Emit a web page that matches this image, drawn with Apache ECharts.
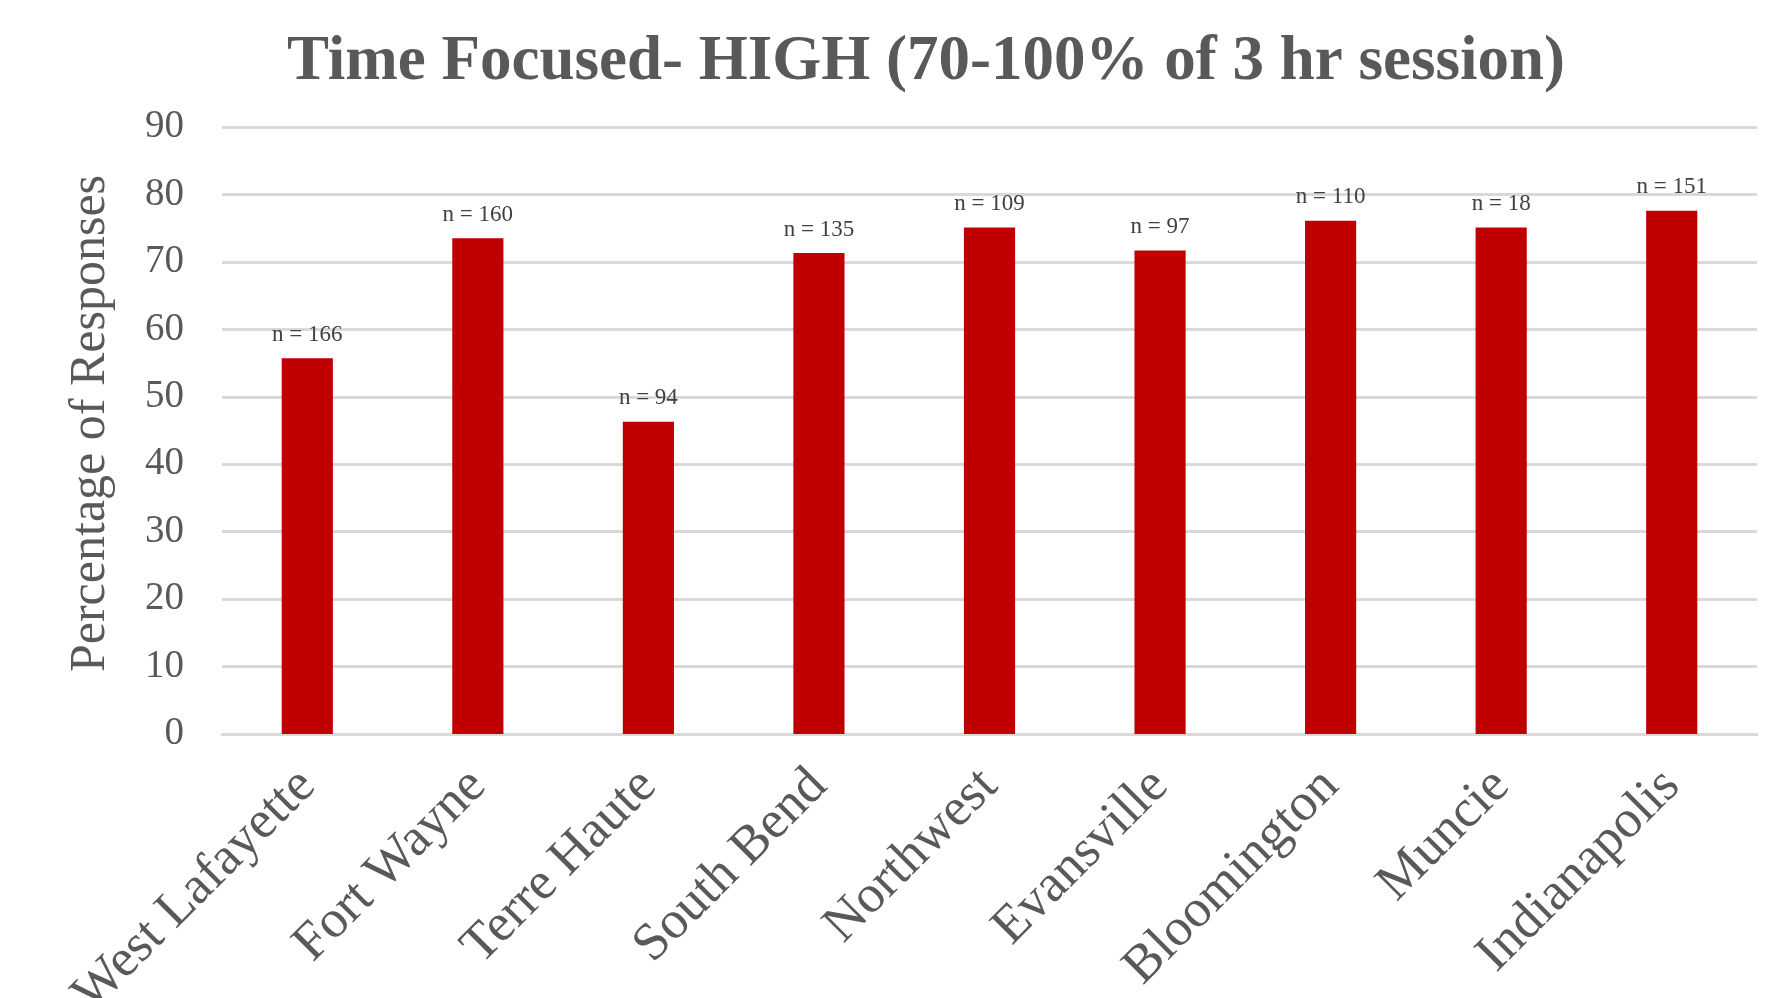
<!DOCTYPE html>
<html>
<head>
<meta charset="utf-8">
<script src="https://cdn.jsdelivr.net/npm/echarts@6/dist/echarts.min.js"></script>
<style>
  html, body { margin: 0; padding: 0; background: #fff; }
  #chart { width: 1768px; height: 998px; }
</style>
</head>
<body>
<div id="chart"></div>
<script>
// campuses along the x axis
const campuses = ['West Lafayette', 'Fort Wayne', 'Terre Haute', 'South Bend', 'Northwest',
  'Evansville', 'Bloomington', 'Muncie', 'Indianapolis'];
// percentage of responses
const percentHigh = [55.7, 73.5, 46.3, 71.3, 75.1, 71.7, 76.1, 75.1, 77.6];
// sample size shown above each bar
const sampleSizes = [166, 160, 94, 135, 109, 97, 110, 18, 151];
const yTicks = { min: 0, max: 90, step: 10 };

const FONT = '"Liberation Serif", "Times New Roman", serif';
const TEXT_GREY = '#595959';

const chart = echarts.init(document.getElementById('chart'));

const option = {
  animation: false,
  title: {
    text: 'Time Focused- HIGH (70-100% of 3 hr session)',
    left: 921,
    textAlign: 'center',
    top: 26,
    textStyle: {
      fontFamily: FONT,
      fontSize: 63,
      fontWeight: 'bold',
      color: TEXT_GREY,
    },
  },
  grid: {
    left: 222,
    right: 11,
    top: 127,
    bottom: 264,
    containLabel: false,
    outerBoundsMode: 'none',
  },
  xAxis: {
    type: 'category',
    data: campuses,
    axisLine: { show: true, lineStyle: { color: '#d9d9d9', width: 3 } },
    axisTick: { show: false },
    axisLabel: {
      rotate: 45,
      margin: 44,
      fontFamily: FONT,
      fontSize: 53,
      color: TEXT_GREY,
    },
  },
  yAxis: {
    type: 'value',
    min: yTicks.min,
    max: yTicks.max,
    interval: yTicks.step,
    name: 'Percentage of Responses',
    nameLocation: 'middle',
    nameRotate: 90,
    nameGap: 106,
    nameTextStyle: {
      fontFamily: FONT,
      fontSize: 50,
      color: TEXT_GREY,
      padding: [0, 0, 0, 14],
    },
    axisLine: { show: false },
    axisTick: { show: false },
    axisLabel: {
      margin: 38,
      fontFamily: FONT,
      fontSize: 39,
      color: TEXT_GREY,
    },
    splitLine: { lineStyle: { color: '#d9d9d9', width: 3 } },
  },
  series: [
    {
      type: 'bar',
      data: percentHigh,
      barWidth: '30%',
      itemStyle: { color: '#c00000' },
      label: {
        show: true,
        position: 'top',
        distance: 12,
        fontFamily: FONT,
        fontSize: 23,
        color: '#404040',
        formatter: (p) => 'n = ' + sampleSizes[p.dataIndex],
      },
    },
  ],
};

chart.setOption(option);
</script>
</body>
</html>
